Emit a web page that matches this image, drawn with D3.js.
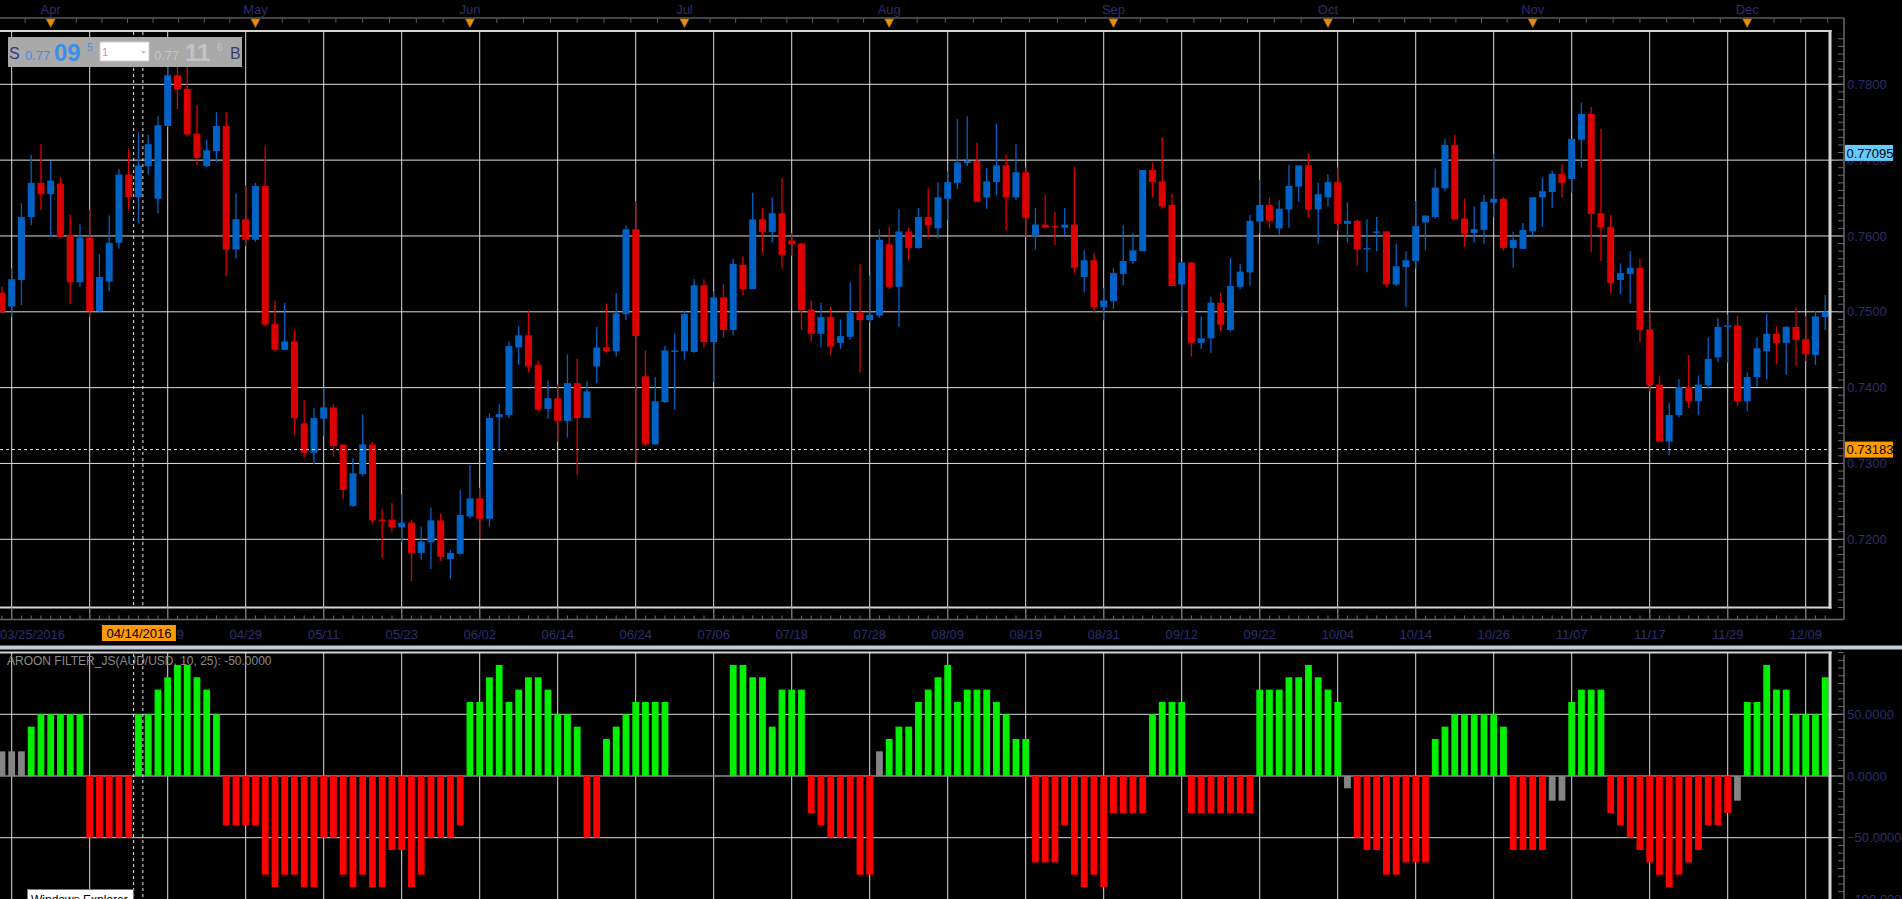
<!DOCTYPE html>
<html><head><meta charset="utf-8">
<script src="https://cdn.jsdelivr.net/npm/d3@7"></script>
<style>
html,body{margin:0;padding:0;background:#000;overflow:hidden;}
svg{display:block;font-family:"Liberation Sans",Arial,sans-serif;}
</style></head><body>
<svg id="chart" width="1902" height="899"></svg>
<script>
// ---------- DATA ----------
const dates = ["03/24","03/25","03/29","03/30","03/31","04/01","04/04","04/05","04/06","04/07","04/08","04/11","04/12","04/13","04/14","04/15","04/18","04/19","04/20","04/21","04/22","04/25","04/26","04/27","04/28","04/29","05/02","05/03","05/04","05/05","05/06","05/09","05/10","05/11","05/12","05/13","05/16","05/17","05/18","05/19","05/20","05/23","05/24","05/25","05/26","05/27","05/30","05/31","06/01","06/02","06/03","06/06","06/07","06/08","06/09","06/10","06/13","06/14","06/15","06/16","06/17","06/20","06/21","06/22","06/23","06/24","06/27","06/28","06/29","06/30","07/01","07/04","07/05","07/06","07/07","07/08","07/11","07/12","07/13","07/14","07/15","07/18","07/19","07/20","07/21","07/22","07/25","07/26","07/27","07/28","07/29","08/01","08/02","08/03","08/04","08/05","08/08","08/09","08/10","08/11","08/12","08/15","08/16","08/17","08/18","08/19","08/22","08/23","08/24","08/25","08/26","08/29","08/30","08/31","09/01","09/02","09/05","09/06","09/07","09/08","09/09","09/12","09/13","09/14","09/15","09/16","09/19","09/20","09/21","09/22","09/23","09/26","09/27","09/28","09/29","09/30","10/03","10/04","10/05","10/06","10/07","10/10","10/11","10/12","10/13","10/14","10/17","10/18","10/19","10/20","10/21","10/24","10/25","10/26","10/27","10/28","10/31","11/01","11/02","11/03","11/04","11/07","11/08","11/09","11/10","11/11","11/14","11/15","11/16","11/17","11/18","11/21","11/22","11/23","11/24","11/25","11/28","11/29","11/30","12/01","12/02","12/05","12/06","12/07","12/08","12/09","12/12","12/13"];

const opens = [0.7525,0.7507,0.7542,0.7625,0.7670,0.7655,0.7669,0.7601,0.7539,0.7598,0.7501,0.7540,0.7591,0.7681,0.7651,0.7692,0.7649,0.7745,0.7812,0.7794,0.7735,0.7692,0.7712,0.7745,0.7582,0.7622,0.7595,0.7666,0.7484,0.7450,0.7461,0.7353,0.7314,0.7359,0.7374,0.7325,0.7244,0.7286,0.7325,0.7226,0.7226,0.7216,0.7222,0.7182,0.7196,0.7225,0.7174,0.7181,0.7230,0.7254,0.7227,0.7361,0.7364,0.7453,0.7469,0.7430,0.7372,0.7386,0.7356,0.7406,0.7360,0.7428,0.7453,0.7448,0.7497,0.7609,0.7415,0.7325,0.7381,0.7448,0.7448,0.7447,0.7535,0.7460,0.7519,0.7476,0.7562,0.7530,0.7622,0.7605,0.7630,0.7594,0.7590,0.7503,0.7471,0.7493,0.7459,0.7467,0.7499,0.7489,0.7495,0.7589,0.7533,0.7606,0.7584,0.7625,0.7610,0.7649,0.7670,0.7696,0.7699,0.7651,0.7671,0.7693,0.7651,0.7684,0.7600,0.7615,0.7613,0.7611,0.7615,0.7546,0.7568,0.7506,0.7514,0.7550,0.7567,0.7580,0.7687,0.7672,0.7641,0.7536,0.7565,0.7459,0.7465,0.7512,0.7476,0.7533,0.7552,0.7619,0.7641,0.7610,0.7635,0.7665,0.7693,0.7635,0.7651,0.7671,0.7616,0.7620,0.7583,0.7604,0.7606,0.7536,0.7559,0.7567,0.7618,0.7625,0.7663,0.7720,0.7623,0.7604,0.7608,0.7644,0.7649,0.7584,0.7583,0.7606,0.7651,0.7658,0.7682,0.7675,0.7727,0.7761,0.7630,0.7612,0.7542,0.7550,0.7558,0.7477,0.7404,0.7329,0.7364,0.7401,0.7382,0.7403,0.7440,0.7480,0.7482,0.7382,0.7414,0.7448,0.7471,0.7459,0.7480,0.7464,0.7443,0.7493];
const highs = [0.7533,0.7557,0.7643,0.7707,0.7721,0.7699,0.7677,0.7628,0.7616,0.7635,0.7576,0.7627,0.7688,0.7715,0.7736,0.7733,0.7758,0.7823,0.7828,0.7834,0.7773,0.7727,0.7763,0.7763,0.7656,0.7667,0.7670,0.7718,0.7515,0.7512,0.7476,0.7384,0.7373,0.7400,0.7378,0.7325,0.7307,0.7365,0.7328,0.7240,0.7248,0.7259,0.7226,0.7217,0.7242,0.7234,0.7186,0.7265,0.7298,0.7268,0.7366,0.7378,0.7461,0.7481,0.7501,0.7436,0.7409,0.7404,0.7444,0.7438,0.7409,0.7480,0.7511,0.7525,0.7614,0.7646,0.7449,0.7414,0.7455,0.7471,0.7501,0.7543,0.7543,0.7527,0.7537,0.7570,0.7573,0.7657,0.7637,0.7651,0.7676,0.7604,0.7591,0.7515,0.7512,0.7506,0.7490,0.7539,0.7563,0.7548,0.7609,0.7612,0.7635,0.7611,0.7637,0.7663,0.7671,0.7685,0.7754,0.7758,0.7723,0.7690,0.7748,0.7707,0.7721,0.7690,0.7637,0.7654,0.7632,0.7637,0.7691,0.7581,0.7578,0.7531,0.7558,0.7614,0.7604,0.7687,0.7697,0.7730,0.7656,0.7566,0.7566,0.7494,0.7520,0.7525,0.7571,0.7563,0.7628,0.7674,0.7651,0.7647,0.7694,0.7693,0.7709,0.7670,0.7681,0.7690,0.7644,0.7622,0.7622,0.7625,0.7607,0.7590,0.7580,0.7646,0.7627,0.7689,0.7728,0.7733,0.7649,0.7639,0.7654,0.7708,0.7651,0.7606,0.7617,0.7651,0.7677,0.7686,0.7695,0.7728,0.7776,0.7770,0.7741,0.7628,0.7564,0.7580,0.7570,0.7500,0.7416,0.7380,0.7411,0.7443,0.7416,0.7466,0.7492,0.7496,0.7495,0.7420,0.7466,0.7497,0.7481,0.7481,0.7506,0.7494,0.7501,0.7522];
const lows = [0.7498,0.7493,0.7509,0.7614,0.7634,0.7599,0.7598,0.7510,0.7533,0.7493,0.7500,0.7527,0.7583,0.7634,0.7617,0.7681,0.7630,0.7744,0.7767,0.7731,0.7694,0.7691,0.7697,0.7547,0.7570,0.7586,0.7592,0.7481,0.7447,0.7449,0.7338,0.7308,0.7299,0.7336,0.7309,0.7253,0.7243,0.7283,0.7221,0.7175,0.7210,0.7196,0.7145,0.7173,0.7161,0.7171,0.7148,0.7180,0.7227,0.7201,0.7217,0.7316,0.7360,0.7430,0.7420,0.7369,0.7359,0.7329,0.7334,0.7285,0.7360,0.7406,0.7446,0.7441,0.7489,0.7302,0.7323,0.7325,0.7380,0.7371,0.7437,0.7446,0.7453,0.7407,0.7466,0.7469,0.7522,0.7530,0.7577,0.7591,0.7557,0.7574,0.7476,0.7461,0.7453,0.7444,0.7451,0.7463,0.7420,0.7486,0.7492,0.7530,0.7480,0.7568,0.7583,0.7597,0.7597,0.7621,0.7662,0.7692,0.7645,0.7636,0.7654,0.7607,0.7647,0.7599,0.7582,0.7611,0.7588,0.7601,0.7551,0.7525,0.7499,0.7489,0.7504,0.7535,0.7563,0.7580,0.7651,0.7636,0.7534,0.7493,0.7441,0.7451,0.7446,0.7474,0.7474,0.7530,0.7534,0.7604,0.7610,0.7602,0.7611,0.7645,0.7624,0.7589,0.7639,0.7607,0.7591,0.7561,0.7552,0.7580,0.7533,0.7534,0.7506,0.7557,0.7581,0.7623,0.7659,0.7621,0.7586,0.7591,0.7589,0.7625,0.7581,0.7558,0.7583,0.7598,0.7612,0.7637,0.7651,0.7657,0.7690,0.7579,0.7567,0.7525,0.7523,0.7511,0.7460,0.7395,0.7329,0.7311,0.7361,0.7373,0.7364,0.7399,0.7433,0.7433,0.7375,0.7369,0.7401,0.7411,0.7431,0.7417,0.7429,0.7435,0.7430,0.7476];
const closes = [0.7500,0.7543,0.7625,0.7670,0.7655,0.7673,0.7599,0.7539,0.7598,0.7501,0.7546,0.7591,0.7681,0.7651,0.7693,0.7721,0.7746,0.7812,0.7793,0.7734,0.7703,0.7713,0.7745,0.7582,0.7622,0.7595,0.7666,0.7483,0.7450,0.7461,0.7360,0.7314,0.7360,0.7374,0.7323,0.7265,0.7287,0.7325,0.7225,0.7225,0.7216,0.7222,0.7182,0.7197,0.7225,0.7177,0.7182,0.7232,0.7254,0.7227,0.7360,0.7365,0.7455,0.7469,0.7428,0.7371,0.7386,0.7356,0.7406,0.7360,0.7395,0.7453,0.7448,0.7498,0.7609,0.7468,0.7325,0.7382,0.7449,0.7449,0.7497,0.7535,0.7460,0.7519,0.7476,0.7563,0.7530,0.7622,0.7605,0.7630,0.7575,0.7589,0.7502,0.7471,0.7493,0.7454,0.7468,0.7499,0.7489,0.7496,0.7595,0.7533,0.7606,0.7584,0.7625,0.7614,0.7651,0.7671,0.7697,0.7699,0.7645,0.7672,0.7693,0.7651,0.7684,0.7624,0.7615,0.7611,0.7611,0.7615,0.7558,0.7568,0.7506,0.7515,0.7551,0.7567,0.7581,0.7687,0.7671,0.7639,0.7534,0.7565,0.7459,0.7465,0.7512,0.7483,0.7534,0.7553,0.7620,0.7641,0.7620,0.7636,0.7666,0.7693,0.7635,0.7655,0.7671,0.7616,0.7620,0.7582,0.7584,0.7606,0.7536,0.7560,0.7568,0.7613,0.7627,0.7664,0.7720,0.7622,0.7602,0.7609,0.7645,0.7649,0.7584,0.7595,0.7608,0.7651,0.7659,0.7682,0.7670,0.7728,0.7761,0.7629,0.7611,0.7538,0.7551,0.7558,0.7476,0.7403,0.7329,0.7364,0.7401,0.7382,0.7404,0.7438,0.7480,0.7482,0.7382,0.7414,0.7452,0.7471,0.7459,0.7480,0.7463,0.7444,0.7494,0.7500];

const aroon = [20,20,20,40,50,50,50,50,50,-50,-50,-50,-50,-50,50,50,70,80,90,90,80,70,50,
-40,-40,-40,-40,-80,-90,-80,-80,-90,-90,-50,-50,-80,-90,-80,-90,-90,-60,-60,-90,-80,-50,-50,-50,-40,
60,60,80,90,60,70,80,80,70,50,50,40,-50,-50,30,40,50,60,60,60,60,0,0,0,0,0,0,
90,90,80,80,40,70,70,70,-30,-40,-50,-50,-50,-80,-80,20,30,40,40,
60,70,80,90,60,70,70,70,60,50,30,30,-70,-70,-70,-40,-80,-90,-80,-90,-30,-30,-30,-30,
50,60,60,60,-30,-30,-30,-30,-30,-30,-30,70,70,70,80,80,90,80,70,60,-10,
-50,-60,-60,-80,-80,-70,-70,-70,30,40,50,50,50,50,50,40,-60,-60,-60,-60,-20,-20,
60,70,70,70,-30,-40,-50,-60,-70,-80,-90,-80,-70,-60,-40,-40,-30,-20,60,60,90,70,70,50,50,50,80];

const gridDates = ["03/25","04/07","04/19","04/29","05/11","05/23","06/02","06/14","06/24","07/06","07/18","07/28","08/09","08/19","08/31","09/12","09/22","10/04","10/14","10/26","11/07","11/17","11/29","12/09"];
const gridLabels = ["03/25/2016","","04/19","04/29","05/11","05/23","06/02","06/14","06/24","07/06","07/18","07/28","08/09","08/19","08/31","09/12","09/22","10/04","10/14","10/26","11/07","11/17","11/29","12/09"];
const months = ["Apr","May","Jun","Jul","Aug","Sep","Oct","Nov","Dec"];
const monthStarts = ["04/01","05/02","06/01","07/01","08/01","09/01","10/03","11/01","12/01"];
const priceTicks = [0.72,0.73,0.74,0.75,0.76,0.77,0.78];
const aroonTicks = [50,0,-50,-100];
const crossDate = "04/14", crossDateLabel = "04/14/2016";
const crossPrice = 0.73183, markPrice = 0.77095;
const indicatorTitle = "AROON FILTER_JS(AUD/USD, 10, 25): -50.0000";

// ---------- LAYOUT ----------
const W = 1902, H = 899;
const plotR = 1830, mainT = 31, mainB = 607.5, lowT = 653, lowB = 899, axisX = 1844, dateAxisY = 619.5;
const svg = d3.select('#chart');
svg.append('rect').attr('width', W).attr('height', H).attr('fill', '#000');

const x = d3.scaleBand().domain(dates).range([-2.925, 1830.075]).padding(0);
const cx = d => x(d) + x.bandwidth() / 2;
const y = d3.scaleLinear().domain([0.72, 0.78]).range([539.3, 84.3]);
const ya = d3.scaleLinear().domain([-100, 100]).range([899.4, 652.6]);
const axisColor = '#2e2e6c';
const gridColor = '#dcdcdc';

const defs = svg.append('defs');
defs.append('clipPath').attr('id', 'clipMain').append('rect').attr('x', 0).attr('y', mainT).attr('width', plotR).attr('height', mainB - mainT);
defs.append('clipPath').attr('id', 'clipLow').append('rect').attr('x', 0).attr('y', lowT).attr('width', plotR).attr('height', lowB - lowT);

// ---------- TOP MONTH STRIP ----------
const topG = svg.append('g');
topG.append('line').attr('x1', 0).attr('x2', axisX).attr('y1', 18).attr('y2', 18).attr('stroke', '#5a5a5a').attr('stroke-width', 1.5);
const mPos = monthStarts.map(cx);
const subTicks = [];
const firstStep = (mPos[1] - mPos[0]) / 8;
for (let p = mPos[0] - firstStep; p > 0; p -= firstStep) subTicks.push(p);
mPos.forEach((p, i) => {
  const step = i < mPos.length - 1 ? (mPos[i + 1] - p) / 8 : (mPos[i] - mPos[i - 1]) / 8;
  for (let k = 0; k < 8; k++) { const q = p + k * step; if (q < axisX - 2) subTicks.push(q); }
});
topG.selectAll('line.st').data(subTicks).join('line').attr('class', 'st')
  .attr('x1', d => d).attr('x2', d => d).attr('y1', 18).attr('y2', 23).attr('stroke', '#5a5a5a').attr('stroke-width', 1);
topG.selectAll('text.m').data(months).join('text').attr('class', 'm')
  .attr('x', (d, i) => mPos[i]).attr('y', 13.5).attr('text-anchor', 'middle')
  .attr('font-size', 13).attr('fill', axisColor).text(d => d);
topG.selectAll('path.tri').data(mPos).join('path').attr('class', 'tri')
  .attr('d', d => `M${d - 4.5},19 L${d + 4.5},19 L${d},27.5 Z`)
  .attr('fill', '#e8900a').attr('stroke', '#b06400').attr('stroke-width', 0.6);

// ---------- GRID ----------
const grid = svg.append('g');
grid.selectAll('line.vg').data(gridDates).join('line').attr('class', 'vg')
  .attr('x1', d => cx(d)).attr('x2', d => cx(d)).attr('y1', mainT).attr('y2', dateAxisY)
  .attr('stroke', gridColor).attr('stroke-width', 1);
grid.selectAll('line.vg2').data(gridDates).join('line').attr('class', 'vg2')
  .attr('x1', d => cx(d)).attr('x2', d => cx(d)).attr('y1', lowT).attr('y2', lowB)
  .attr('stroke', gridColor).attr('stroke-width', 1);
grid.selectAll('line.hg').data(priceTicks).join('line').attr('class', 'hg')
  .attr('x1', 0).attr('x2', axisX).attr('y1', d => y(d)).attr('y2', d => y(d))
  .attr('stroke', gridColor).attr('stroke-width', 1);
grid.selectAll('line.hg2').data([50, -50]).join('line').attr('class', 'hg2')
  .attr('x1', 0).attr('x2', axisX).attr('y1', d => ya(d)).attr('y2', d => ya(d))
  .attr('stroke', gridColor).attr('stroke-width', 1);
grid.append('line').attr('x1', 0).attr('x2', axisX).attr('y1', ya(0)).attr('y2', ya(0))
  .attr('stroke', '#8a8a8a').attr('stroke-width', 1.5);

// ---------- CANDLES ----------
const candles = dates.map((d, i) => ({ d, o: opens[i], h: highs[i], l: lows[i], c: closes[i] }));
const cg = svg.append('g').attr('clip-path', 'url(#clipMain)');
const col = c => c.c >= c.o ? '#0062c4' : '#dd0000';
cg.selectAll('line.wick').data(candles).join('line').attr('class', 'wick')
  .attr('x1', c => cx(c.d)).attr('x2', c => cx(c.d)).attr('y1', c => y(c.h)).attr('y2', c => y(c.l))
  .attr('stroke', col).attr('stroke-width', 1.3);
const bw = 7;
cg.selectAll('rect.body').data(candles).join('rect').attr('class', 'body')
  .attr('x', c => cx(c.d) - bw / 2).attr('width', bw)
  .attr('y', c => y(Math.max(c.o, c.c)))
  .attr('height', c => Math.max(1.5, Math.abs(y(c.o) - y(c.c))))
  .attr('fill', col);

// ---------- AROON BARS ----------
const bars = dates.map((d, i) => ({ d, v: aroon[i] }));
const lg = svg.append('g').attr('clip-path', 'url(#clipLow)');
lg.selectAll('rect.ab').data(bars.filter(b => b.v !== 0)).join('rect').attr('class', 'ab')
  .attr('x', b => cx(b.d) - 3.4).attr('width', 6.8)
  .attr('y', b => Math.min(ya(0), ya(b.v))).attr('height', b => Math.abs(ya(b.v) - ya(0)))
  .attr('fill', b => b.v >= 30 ? '#00f000' : (b.v <= -30 ? '#ff0000' : '#848484'));

// ---------- FRAMES ----------
const fr = svg.append('g').attr('stroke', '#d4d4d4').attr('fill', 'none');
fr.append('line').attr('x1', 0).attr('x2', plotR + 1.5).attr('y1', mainT).attr('y2', mainT).attr('stroke-width', 2);
fr.append('line').attr('x1', plotR).attr('x2', plotR).attr('y1', mainT - 1).attr('y2', mainB + 1).attr('stroke-width', 3);
fr.append('line').attr('x1', 0).attr('x2', plotR + 1.5).attr('y1', mainB).attr('y2', mainB).attr('stroke-width', 2);
fr.append('line').attr('x1', 0).attr('x2', plotR + 1.5).attr('y1', lowT - 0.5).attr('y2', lowT - 0.5).attr('stroke-width', 2);
fr.append('line').attr('x1', plotR).attr('x2', plotR).attr('y1', lowT - 1.5).attr('y2', lowB).attr('stroke-width', 3);
svg.append('rect').attr('x', 0).attr('y', 645.5).attr('width', W).attr('height', 4).attr('fill', '#c3ccd8');

// ---------- PRICE AXIS ----------
const ax = svg.append('g');
ax.append('line').attr('x1', axisX).attr('x2', axisX).attr('y1', 18).attr('y2', dateAxisY).attr('stroke', '#686868').attr('stroke-width', 1.5);
const minorP = d3.range(711, 787).map(v => v / 1000);
ax.selectAll('line.mt').data(minorP).join('line').attr('class', 'mt')
  .attr('x1', axisX - 6).attr('x2', axisX).attr('y1', d => y(d)).attr('y2', d => y(d))
  .attr('stroke', '#686868').attr('stroke-width', 1);
ax.selectAll('text.pl').data(priceTicks).join('text').attr('class', 'pl')
  .attr('x', axisX + 3).attr('y', d => y(d)).attr('dy', '0.36em')
  .attr('font-size', 13).attr('fill', axisColor).text(d3.format('.4f'));

// ---------- DATE AXIS ----------
const dx = svg.append('g');
dx.append('line').attr('x1', 0).attr('x2', axisX).attr('y1', dateAxisY).attr('y2', dateAxisY).attr('stroke', '#686868').attr('stroke-width', 1.5);
dx.selectAll('line.dt').data(dates).join('line').attr('class', 'dt')
  .attr('x1', d => cx(d)).attr('x2', d => cx(d)).attr('y1', dateAxisY - 4).attr('y2', dateAxisY)
  .attr('stroke', '#686868').attr('stroke-width', 1);
dx.selectAll('line.dT').data(gridDates).join('line').attr('class', 'dT')
  .attr('x1', d => cx(d)).attr('x2', d => cx(d)).attr('y1', mainB).attr('y2', dateAxisY)
  .attr('stroke', '#686868').attr('stroke-width', 1);
dx.selectAll('text.dl').data(gridDates).join('text').attr('class', 'dl')
  .attr('x', (d, i) => i === 0 ? 0 : cx(d)).attr('y', 638.5)
  .attr('text-anchor', (d, i) => i === 0 ? 'start' : 'middle')
  .attr('font-size', 13).attr('fill', axisColor).text((d, i) => gridLabels[i]);

// ---------- INDICATOR AXIS ----------
const ia = svg.append('g');
ia.append('line').attr('x1', axisX).attr('x2', axisX).attr('y1', lowT + 2).attr('y2', lowB).attr('stroke', '#686868').attr('stroke-width', 1.5);
ia.selectAll('line.it').data(d3.range(-100, 100.1, 6.25)).join('line').attr('class', 'it')
  .attr('x1', axisX - 6).attr('x2', axisX).attr('y1', d => ya(d)).attr('y2', d => ya(d))
  .attr('stroke', '#686868').attr('stroke-width', 1);
ia.selectAll('text.il').data(aroonTicks).join('text').attr('class', 'il')
  .attr('x', axisX + 3).attr('y', d => ya(d)).attr('dy', '0.36em')
  .attr('font-size', 13).attr('fill', axisColor).text(d3.format('.4f'));
svg.append('text').attr('x', 7).attr('y', 665).attr('font-size', 12).attr('fill', '#8c8c8c').text(indicatorTitle);

// ---------- CROSSHAIR ----------
const ch = svg.append('g').attr('stroke', '#e8e8e8').attr('stroke-width', 1).attr('stroke-dasharray', '3,3');
[-4.8, 4.4].forEach(o => {
  ch.append('line').attr('x1', cx(crossDate) + o).attr('x2', cx(crossDate) + o).attr('y1', mainT + 1).attr('y2', mainB - 1);
  ch.append('line').attr('x1', cx(crossDate) + o).attr('x2', cx(crossDate) + o).attr('y1', lowT + 1).attr('y2', lowB);
});
ch.append('line').attr('x1', 0).attr('x2', plotR - 2).attr('y1', y(crossPrice)).attr('y2', y(crossPrice));

// price tags
[[markPrice, '#66ccff'], [crossPrice, '#ff9a00']].forEach(([p, c]) => {
  svg.append('rect').attr('x', axisX + 1).attr('y', y(p) - 8).attr('width', 48).attr('height', 16).attr('fill', c);
  svg.append('text').attr('x', axisX + 2.5).attr('y', y(p)).attr('dy', '0.36em').attr('font-size', 13).attr('fill', '#000').text(d3.format('.5f')(p));
});
// date tag
svg.append('rect').attr('x', cx(crossDate) - 36.5).attr('y', 625).attr('width', 74).attr('height', 16).attr('fill', '#ff9a00');
svg.append('text').attr('x', cx(crossDate) + 0.5).attr('y', 637.5).attr('text-anchor', 'middle').attr('font-size', 13).attr('fill', '#000').text(crossDateLabel);

// ---------- INFO BOX ----------
const ib = svg.append('g');
ib.append('rect').attr('x', 8).attr('y', 37).attr('width', 234).attr('height', 30).attr('fill', '#a9a9a9');
ib.append('text').attr('x', 9).attr('y', 59).attr('font-size', 16).attr('fill', '#3a3a78').text('S');
ib.append('text').attr('x', 25).attr('y', 60).attr('font-size', 13).attr('fill', '#3c8ee6').text('0.77');
ib.append('text').attr('x', 54).attr('y', 60.5).attr('font-size', 24).attr('font-weight', 'bold').attr('fill', '#3c8ee6').text('09');
ib.append('text').attr('x', 87).attr('y', 51).attr('font-size', 10).attr('fill', '#3c8ee6').text('5');
ib.append('rect').attr('x', 100).attr('y', 42).attr('width', 49).attr('height', 19).attr('fill', '#fff').attr('stroke', '#d0d0d0');
ib.append('text').attr('x', 102).attr('y', 56).attr('font-size', 11).attr('fill', '#c090c0').text('1');
ib.append('path').attr('d', 'M141,51 L146,51 L143.5,54 Z').attr('fill', '#c0c0c0');
ib.append('text').attr('x', 154).attr('y', 60).attr('font-size', 13).attr('fill', '#c4c4c4').text('0.77');
ib.append('text').attr('x', 185).attr('y', 60.5).attr('font-size', 24).attr('font-weight', 'bold').attr('fill', '#c4c4c4').text('11');
ib.append('text').attr('x', 217).attr('y', 51).attr('font-size', 10).attr('fill', '#c4c4c4').text('6');
ib.append('text').attr('x', 230).attr('y', 59).attr('font-size', 16).attr('fill', '#3a3a78').text('B');

// ---------- TOOLTIP ----------
svg.append('rect').attr('x', 27.5).attr('y', 889.5).attr('width', 106).attr('height', 20).attr('fill', '#fff').attr('stroke', '#767676');
svg.append('text').attr('x', 31).attr('y', 903.5).attr('font-size', 12).attr('fill', '#000').text('Windows Explorer');
</script>
</body></html>
